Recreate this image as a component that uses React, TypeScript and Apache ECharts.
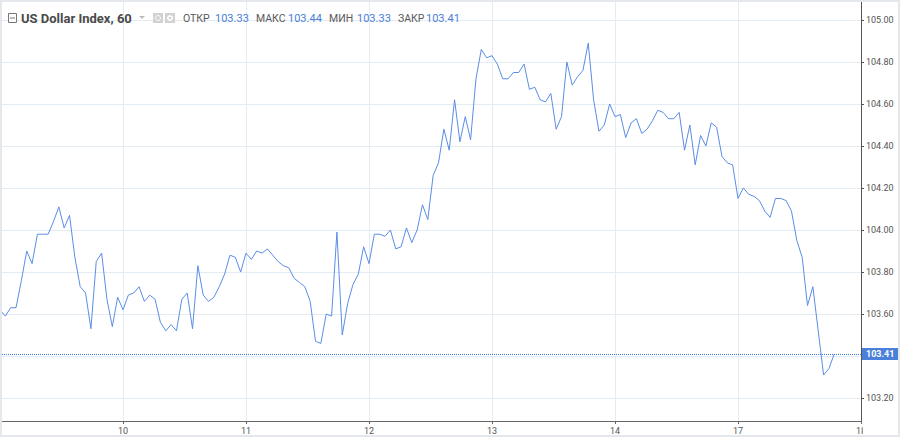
import React, { useEffect, useRef } from "react";
import * as echarts from "echarts";

// Day labels on the time axis (one per trading day, 23 hourly bars per day)
const dayLabels = ["9", "10", "11", "12", "13", "14", "17", "18"];
const barsPerDay = 23;
const totalSlots = 162;

// Hourly closes of US Dollar Index, 60
const prices = [
  103.62, 103.59, 103.63, 103.63, 103.76, 103.9, 103.84, 103.98, 103.98, 103.98,
  104.04, 104.11, 104.01, 104.07, 103.87, 103.73, 103.7, 103.53, 103.85, 103.89,
  103.67, 103.54, 103.68, 103.62, 103.69, 103.7, 103.73, 103.66, 103.69, 103.67,
  103.56, 103.52, 103.55, 103.52, 103.67, 103.7, 103.53, 103.83, 103.69, 103.66,
  103.68, 103.73, 103.79, 103.88, 103.87, 103.8, 103.89, 103.86, 103.9, 103.89,
  103.91, 103.88, 103.85, 103.83, 103.82, 103.77, 103.75, 103.73, 103.66, 103.47,
  103.46, 103.6, 103.59, 103.99, 103.5, 103.65, 103.74, 103.79, 103.92, 103.84,
  103.98, 103.98, 103.97, 104.0, 103.91, 103.92, 104.01, 103.94, 104.0, 104.12,
  104.05, 104.26, 104.32, 104.48, 104.38, 104.62, 104.42, 104.54, 104.43, 104.72,
  104.86, 104.82, 104.83, 104.79, 104.72, 104.72, 104.75, 104.75, 104.79, 104.67,
  104.68, 104.62, 104.61, 104.65, 104.48, 104.54, 104.8, 104.69, 104.73, 104.76,
  104.89, 104.62, 104.47, 104.5, 104.6, 104.54, 104.55, 104.44, 104.51, 104.53,
  104.46, 104.48, 104.52, 104.57, 104.56, 104.53, 104.53, 104.56, 104.38, 104.5,
  104.31, 104.45, 104.4, 104.51, 104.49, 104.35, 104.32, 104.31, 104.15, 104.2,
  104.17, 104.16, 104.14, 104.09, 104.06, 104.15, 104.15, 104.14, 104.09, 103.95,
  103.87, 103.64, 103.73, 103.52, 103.31, 103.34, 103.41,
];

const lastPrice = 103.41;
const header = {
  title: "US Dollar Index, 60",
  fields: [
    { label: "ОТКР", value: "103.33" },
    { label: "МАКС", value: "103.44" },
    { label: "МИН", value: "103.33" },
    { label: "ЗАКР", value: "103.41" },
  ],
};

const categories: string[] = [];
for (let i = 0; i < totalSlots; i++) {
  categories.push(dayLabels[Math.floor(i / barsPerDay)] + " " + (i % barsPerDay) + ":00");
}

const isDayStart = (idx: number) => idx % barsPerDay === 0 && idx > 0;

export default function App() {
  const ref = useRef<HTMLDivElement>(null);

  useEffect(() => {
    if (!ref.current) return;
    const chart = echarts.init(ref.current, null, { renderer: "svg" });
    const font = "Roboto";
    const labelX = [183, 256, 329, 398];
    const valueX = [215, 288, 357, 426];
    const headerEls: any[] = [];
    header.fields.forEach((f, k) => {
      headerEls.push({
        type: "text",
        x: labelX[k],
        y: 18,
        z: 100,
        style: { text: f.label, fill: "#5a5a5a", font: `10.5px ${font}`, textVerticalAlign: "middle" },
      });
      headerEls.push({
        type: "text",
        x: valueX[k],
        y: 18,
        z: 100,
        style: { text: f.value, fill: "#4a80da", font: `11px ${font}`, textVerticalAlign: "middle" },
      });
    });

    chart.setOption({
      animation: false,
      backgroundColor: "#ffffff",
      grid: { left: 0, right: 39, top: 0, bottom: 16, containLabel: false },
      xAxis: {
        type: "category",
        data: categories,
        boundaryGap: false,
        axisLine: { show: true, lineStyle: { color: "#666", width: 1 } },
        axisTick: {
          show: true,
          interval: (idx: number) => isDayStart(idx),
          length: 3,
          lineStyle: { color: "#666" },
        },
        axisLabel: {
          interval: (idx: number) => isDayStart(idx),
          formatter: (_v: string, idx: number) => (isDayStart(idx) ? dayLabels[idx / barsPerDay] : ""),
          color: "#555",
          fontSize: 9,
          fontFamily: font,
          margin: 5,
        },
        splitLine: {
          show: true,
          interval: (idx: number) => isDayStart(idx),
          lineStyle: { color: "#e3ebf3", width: 1 },
        },
      },
      yAxis: {
        type: "value",
        position: "right",
        min: 103.0905,
        max: 105.0952,
        splitNumber: 10,
        minInterval: 0.2,
        maxInterval: 0.2,
        axisLine: { show: true, lineStyle: { color: "#555", width: 1 } },
        axisTick: { show: true, length: 3, lineStyle: { color: "#555" } },
        axisLabel: {
          showMinLabel: false,
          showMaxLabel: false,
          color: "#555",
          fontSize: 9,
          fontFamily: font,
          margin: 5,
          formatter: (v: number) => {
            const onStep = Math.abs(v / 0.2 - Math.round(v / 0.2)) < 1e-6;
            const underTag = Math.abs(v - lastPrice) < 0.05;
            return onStep && !underTag ? v.toFixed(2) : "";
          },
        },
        splitLine: { show: true, lineStyle: { color: "#e3ebf3", width: 1 } },
      },
      series: [
        {
          type: "line",
          data: prices,
          showSymbol: false,
          symbol: "none",
          lineStyle: { color: "#5a8de6", width: 1 },
          markLine: {
            silent: true,
            symbol: "none",
            lineStyle: { color: "#3d78d8", type: "dotted", width: 1 },
            label: {
              show: true,
              position: "end",
              distance: 1,
              formatter: lastPrice.toFixed(2),
              backgroundColor: "#4a80da",
              color: "#fff",
              fontWeight: "bold",
              fontSize: 9,
              fontFamily: font,
              padding: [2, 4, 1, 4],
            },
            data: [{ yAxis: lastPrice }],
          },
        },
      ],
      graphic: [
        {
          type: "rect",
          z: 100,
          shape: { x: 863, y: 422, width: 37, height: 15 },
          style: { fill: "#fff" },
        },
        {
          type: "rect",
          z: 101,
          shape: { x: 0, y: 0, width: 900, height: 437 },
          style: { fill: "none", stroke: "#e4e7eb", lineWidth: 4 },
        },
        {
          type: "rect",
          z: 100,
          shape: { x: 8.5, y: 13.5, width: 8, height: 9 },
          style: { fill: "#fff", stroke: "#777", lineWidth: 1 },
        },
        {
          type: "line",
          z: 101,
          shape: { x1: 10, y1: 18, x2: 15, y2: 18 },
          style: { stroke: "#777", lineWidth: 1 },
        },
        {
          type: "text",
          x: 21,
          y: 18,
          z: 100,
          style: {
            text: header.title,
            fill: "#4a4a4a",
            font: `bold 13px ${font}`,
            textVerticalAlign: "middle",
          },
        },
        {
          type: "polygon",
          z: 100,
          shape: { points: [[139, 16], [145, 16], [142, 19]] },
          style: { fill: "#bbb" },
        },
        {
          type: "rect",
          z: 100,
          shape: { x: 153, y: 13, width: 10, height: 10 },
          style: { fill: "#d2d2d2" },
        },
        {
          type: "circle",
          z: 101,
          shape: { cx: 158, cy: 18, r: 2.5 },
          style: { fill: "none", stroke: "#fff", lineWidth: 1 },
        },
        {
          type: "rect",
          z: 100,
          shape: { x: 165, y: 13, width: 10, height: 10 },
          style: { fill: "#d2d2d2" },
        },
        {
          type: "circle",
          z: 101,
          shape: { cx: 170, cy: 18, r: 3 },
          style: { fill: "#fff" },
        },
        {
          type: "circle",
          z: 102,
          shape: { cx: 170, cy: 18, r: 1.3 },
          style: { fill: "#d2d2d2" },
        },
        ...headerEls,
      ],
    });
    return () => chart.dispose();
  }, []);

  return (
    <div
      ref={ref}
      style={{ position: "fixed", left: 0, top: 0, width: 900, height: 437, background: "#fff" }}
    />
  );
}
